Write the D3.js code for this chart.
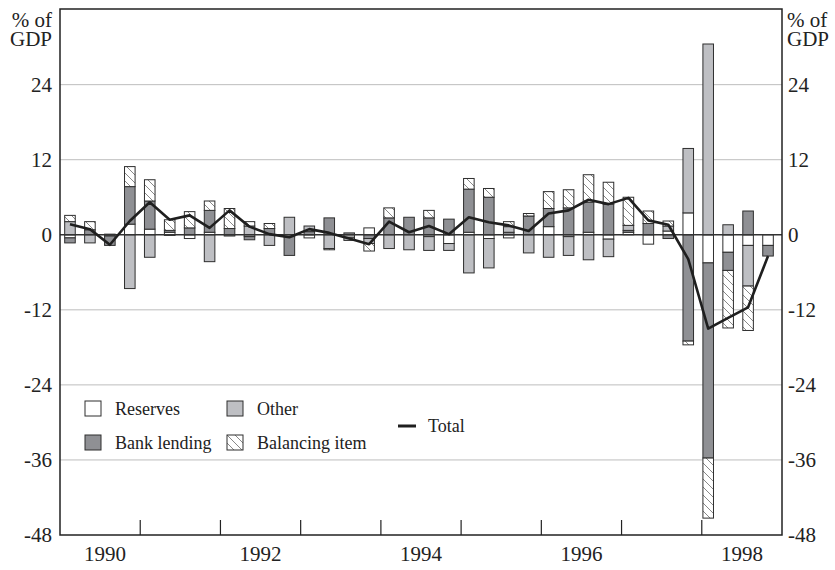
<!DOCTYPE html>
<html>
<head>
<meta charset="utf-8">
<script src="https://cdn.jsdelivr.net/npm/d3@7"></script>
<style>
  body { margin: 0; background: #fff; }
  text { font-family: "Liberation Serif", "Times New Roman", serif; fill: #222; }
</style>
</head>
<body>
<script>
// quarterly data, % of GDP
const quarters = [
  "1990Q1", "1990Q2", "1990Q3", "1990Q4", "1991Q1", "1991Q2", "1991Q3", "1991Q4",
  "1992Q1", "1992Q2", "1992Q3", "1992Q4", "1993Q1", "1993Q2", "1993Q3", "1993Q4",
  "1994Q1", "1994Q2", "1994Q3", "1994Q4", "1995Q1", "1995Q2", "1995Q3", "1995Q4",
  "1996Q1", "1996Q2", "1996Q3", "1996Q4", "1997Q1", "1997Q2", "1997Q3", "1997Q4",
  "1998Q1", "1998Q2", "1998Q3", "1998Q4"
];
const years = ["1990", "1991", "1992", "1993", "1994", "1995", "1996", "1997", "1998"];
const yearLabels = ["1990", "1992", "1994", "1996", "1998"];

const reserves = [-0.5, 0, -0.2, 1.7, 0.9, 0.4, -0.6, 0.4, -0.2, -0.3, 0, -0.3,
  -0.5, 0, -0.4, 1.1, 0, 0, -0.3, -1.4, 0.4, -0.6, -0.5, 0,
  1.3, -0.3, 0.4, -0.7, 0.4, -1.5, 0.6, 3.5, -4.5, -2.8, -1.7, -1.7];
const bankLending = [-0.8, 0.8, -1.5, 6.0, 4.5, 0.3, 1.1, 3.5, 1.0, -0.5, 1.0, -3.0,
  0.5, 2.7, 0.3, -0.6, 2.7, 2.8, 2.7, 2.5, 6.9, 6.0, 0.4, 3.0,
  2.9, 4.3, 4.8, 4.9, 0.3, 1.8, -0.6, -17.0, -31.2, -2.9, 3.8, -1.7];
const other = [2.1, -1.3, 0.1, -8.6, -3.6, -0.1, 0, -4.3, 0, 1.4, -1.7, 2.8,
  0.9, -2.2, -0.5, -0.8, -2.2, -2.4, -2.2, -1.1, -6.1, -4.7, 0.9, -2.9,
  -3.6, -3.0, -4.0, -2.8, 0.8, 0, 0.8, 10.3, 30.5, 1.6, -6.5, 0];
const balancing = [1.0, 1.3, 0, 3.2, 3.4, 1.7, 2.6, 1.5, 3.2, 0.7, 0.8, 0,
  0, -0.2, 0, -1.2, 1.6, 0, 1.2, 0, 1.7, 1.4, 0.8, 0.4,
  2.7, 2.9, 4.4, 3.5, 4.5, 2.0, 0.8, -0.6, -9.6, -9.2, -7.1, 0];
const total = [1.7, 0.9, -1.6, 2.2, 5.2, 2.4, 3.1, 1.1, 3.9, 1.3, 0.1, -0.4,
  0.9, 0.3, -0.6, -1.5, 2.1, 0.4, 1.4, 0.1, 2.8, 2.0, 1.5, 0.6,
  3.4, 3.9, 5.6, 4.9, 5.9, 2.3, 1.6, -3.9, -15.0, -13.3, -11.6, -3.4];
const yTicks = [-48, -36, -24, -12, 0, 12, 24];

const keys = ["reserves", "bank", "other", "balancing"];
const rows = quarters.map((q, i) => ({
  q: q,
  reserves: reserves[i],
  bank: bankLending[i],
  other: other[i],
  balancing: balancing[i]
}));

const svg = d3.select("body").append("svg")
  .attr("width", 835)
  .attr("height", 570);

const plot = { left: 60, right: 782, top: 9, bottom: 535 };
const tickFont = "21px";

const y = d3.scaleLinear().domain([-48, 36]).range([plot.bottom, plot.top + 0.6]);
const x = d3.scaleBand().domain(quarters).range([plot.left, 778])
  .paddingInner(0.47).paddingOuter(0.235);
const xYear = d3.scaleBand().domain(years).range([plot.left, plot.right]);

const fills = {
  reserves: "#ffffff",
  bank: "#8f9094",
  other: "#bebfc3",
  balancing: "url(#hatch)"
};

// hatch pattern for the balancing item
const defs = svg.append("defs");
const pat = defs.append("pattern")
  .attr("id", "hatch")
  .attr("patternUnits", "userSpaceOnUse")
  .attr("width", 8)
  .attr("height", 8);
pat.append("rect").attr("width", 8).attr("height", 8).attr("fill", "#fff");
pat.append("path")
  .attr("d", "M0,0L8,8M-2,6L2,10M6,-2L10,2")
  .attr("stroke", "#555")
  .attr("stroke-width", 0.7);

// gridlines
svg.append("g")
  .selectAll("line")
  .data(yTicks.filter(d => d !== 0 && d !== -48))
  .enter()
  .append("line")
  .attr("x1", plot.left)
  .attr("x2", plot.right)
  .attr("y1", d => y(d))
  .attr("y2", d => y(d))
  .attr("stroke", "#bdbdbd")
  .attr("stroke-width", 1);

// stacked bars
const series = d3.stack().keys(keys).offset(d3.stackOffsetDiverging)(rows);

svg.append("g")
  .selectAll("g")
  .data(series)
  .enter()
  .append("g")
  .attr("fill", d => fills[d.key])
  .selectAll("rect")
  .data(d => d.filter(s => s[1] - s[0] !== 0))
  .enter()
  .append("rect")
  .attr("x", d => x(d.data.q))
  .attr("width", x.bandwidth())
  .attr("y", d => y(Math.max(d[0], d[1])))
  .attr("height", d => Math.abs(y(d[0]) - y(d[1])))
  .attr("stroke", "#2e2e2e")
  .attr("stroke-width", 1);

// zero line
svg.append("line")
  .attr("x1", plot.left)
  .attr("x2", plot.right)
  .attr("y1", y(0))
  .attr("y2", y(0))
  .attr("stroke", "#333")
  .attr("stroke-width", 1.5);

// total line
const line = d3.line()
  .x((d, i) => x(quarters[i]) + x.bandwidth() / 2)
  .y(d => y(d));

svg.append("path")
  .datum(total)
  .attr("d", line)
  .attr("fill", "none")
  .attr("stroke", "#1f1f1f")
  .attr("stroke-width", 2.6)
  .attr("stroke-linejoin", "round");

// frame
svg.append("rect")
  .attr("x", plot.left)
  .attr("y", plot.top)
  .attr("width", plot.right - plot.left)
  .attr("height", plot.bottom - plot.top)
  .attr("fill", "none")
  .attr("stroke", "#222")
  .attr("stroke-width", 1.5);

// year ticks (inside, at year boundaries)
svg.append("g")
  .selectAll("line")
  .data(years.slice(1))
  .enter()
  .append("line")
  .attr("x1", d => xYear(d))
  .attr("x2", d => xYear(d))
  .attr("y1", plot.bottom)
  .attr("y2", plot.bottom - 15)
  .attr("stroke", "#222")
  .attr("stroke-width", 1.2);

svg.append("g")
  .selectAll("text")
  .data(yearLabels)
  .enter()
  .append("text")
  .attr("x", d => xYear(d) + xYear.bandwidth() / 2 + (d === "1990" ? 5 : 0))
  .attr("y", 561)
  .attr("text-anchor", "middle")
  .style("font-size", tickFont)
  .text(d => d);

// y axes, both sides
const leftAxis = svg.append("g")
  .attr("transform", "translate(" + plot.left + ",0)")
  .call(d3.axisLeft(y).tickValues(yTicks).tickSize(0).tickPadding(8)
    .tickFormat(d => String(d)));
const rightAxis = svg.append("g")
  .attr("transform", "translate(" + plot.right + ",0)")
  .call(d3.axisRight(y).tickValues(yTicks).tickSize(0).tickPadding(6)
    .tickFormat(d => String(d)));
[leftAxis, rightAxis].forEach(a => {
  a.select(".domain").remove();
  a.selectAll("text")
    .style("font-size", tickFont)
    .style("font-family", "Liberation Serif, serif")
    .attr("fill", "#222");
});

// unit labels
[["% of", 27], ["GDP", 46]].forEach(([t, yy]) => {
  svg.append("text").attr("x", 52).attr("y", yy)
    .attr("text-anchor", "end").style("font-size", tickFont).text(t);
  svg.append("text").attr("x", 787).attr("y", yy)
    .attr("text-anchor", "start").style("font-size", tickFont).text(t);
});

// legend
const legendItems = [
  { key: "reserves", label: "Reserves", x: 85, y: 401 },
  { key: "other", label: "Other", x: 227, y: 401 },
  { key: "bank", label: "Bank lending", x: 85, y: 435 },
  { key: "balancing", label: "Balancing item", x: 227, y: 435 }
];
const legend = svg.append("g");
legendItems.forEach(d => {
  legend.append("rect")
    .attr("x", d.x)
    .attr("y", d.y)
    .attr("width", 16)
    .attr("height", 15)
    .attr("fill", fills[d.key])
    .attr("stroke", "#2e2e2e")
    .attr("stroke-width", 1);
  legend.append("text")
    .attr("x", d.x + 30)
    .attr("y", d.y + 8)
    .attr("dy", "0.35em")
    .style("font-size", "18px")
    .text(d.label);
});
legend.append("line")
  .attr("x1", 398)
  .attr("x2", 416)
  .attr("y1", 426)
  .attr("y2", 426)
  .attr("stroke", "#1f1f1f")
  .attr("stroke-width", 3);
legend.append("text")
  .attr("x", 428)
  .attr("y", 426)
  .attr("dy", "0.35em")
  .style("font-size", "18px")
  .text("Total");
</script>
</body>
</html>
